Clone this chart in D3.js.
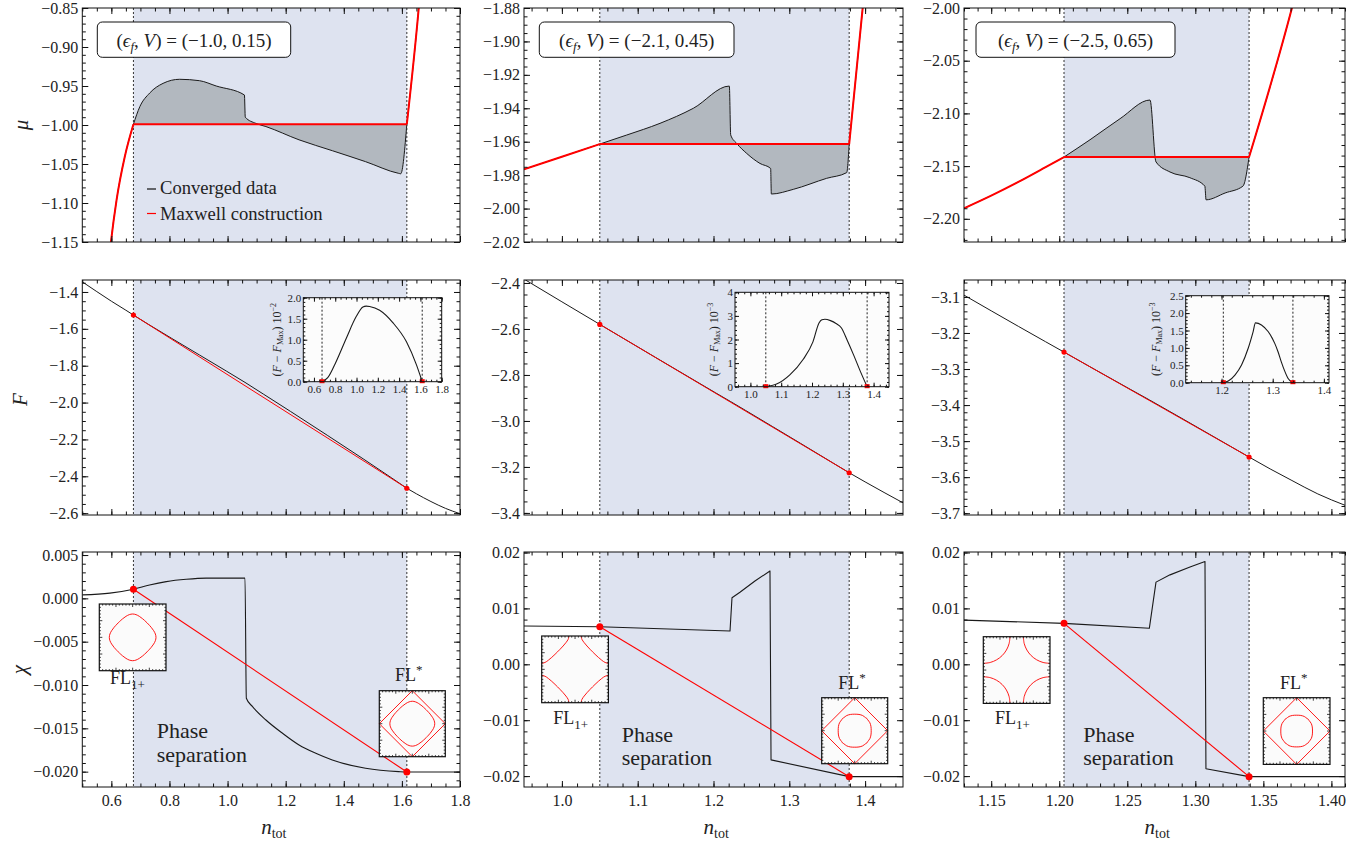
<!DOCTYPE html>
<html>
<head>
<meta charset="utf-8">
<script src="https://cdn.jsdelivr.net/npm/d3@7"></script>
<style>
  body { margin: 0; background: #fff; }
  svg { display: block; font-family: "Liberation Serif", "DejaVu Serif", "Noto Serif", serif; }
  svg text { font-family: "Liberation Serif", "DejaVu Serif", "Noto Serif", serif; fill: #222; }
  .tk text { font-size: 16px; }
  .itk text { font-size: 11px; }
  .tk line, .itk line { stroke: #111; }
</style>
</head>
<body>
<svg id="fig" width="1370" height="846" font-family="Liberation Serif, DejaVu Serif, serif"></svg>
<script>
// ---------------- data ----------------
const paramLabels = ["(−1.0, 0.15)", "(−2.1, 0.45)", "(−2.5, 0.65)"];
const phaseBounds = [[0.676, 1.617], [1.05, 1.379], [1.2035, 1.3395]];
const muMaxwell = [-0.999, -1.9614, -2.1414];

// chemical potential mu(n_tot)
const muLeft1 = [[0.59, -1.18], [0.598, -1.152], [0.618, -1.096], [0.646, -1.041], [0.676, -0.999]];
const muInside1 = [[0.676, -0.999], [0.698, -0.9765], [0.732, -0.959], [0.778, -0.9466], [0.835, -0.9414],
  [0.9035, -0.9432], [0.961, -0.950], [1.058, -0.9615], [1.061, -0.990], [1.098, -0.998], [1.132, -1.002],
  [1.246, -1.019], [1.361, -1.033], [1.475, -1.047], [1.589, -1.062], [1.596, -1.0625], [1.617, -0.999]];
const muRight1 = [[1.617, -0.999], [1.658, -0.85], [1.665, -0.82]];

const muLeft2 = [[0.95, -1.9765], [1.0, -1.969], [1.05, -1.9614]];
const muInside2 = [[1.05, -1.9614], [1.0855, -1.956], [1.1294, -1.949], [1.1734, -1.940], [1.2209, -1.9267],
  [1.2227, -1.956], [1.2306, -1.961], [1.2438, -1.967], [1.2613, -1.973], [1.2754, -1.976], [1.2763, -1.9913],
  [1.3053, -1.9885], [1.3493, -1.9819], [1.3757, -1.9785], [1.379, -1.9614]];
const muRight2 = [[1.379, -1.9614], [1.3968, -1.88], [1.40, -1.865]];

const muLeft3 = [[1.13, -2.190], [1.15, -2.178], [1.17, -2.165], [1.19, -2.151], [1.2035, -2.1414]];
const muInside3 = [[1.2035, -2.1414], [1.2226, -2.125], [1.2447, -2.105], [1.2667, -2.0873], [1.2711, -2.146],
  [1.2814, -2.1556], [1.296, -2.161], [1.307, -2.169], [1.3079, -2.182], [1.3219, -2.1755], [1.335, -2.169],
  [1.3395, -2.1414]];
const muRight3 = [[1.3395, -2.1414], [1.371, -2.0], [1.375, -1.98]];

// free energy F(n_tot)
const fLeft1 = [[0.5, -1.345], [0.55, -1.398], [0.6, -1.450], [0.65, -1.499], [0.676, -1.525]];
const fInside1 = [[0.676, -1.525], [0.7295, -1.5775], [0.808, -1.6521], [0.903, -1.7415], [0.997, -1.8302],
  [1.06, -1.8905], [1.091, -1.9216], [1.123, -1.9537], [1.217, -2.0484], [1.343, -2.1773], [1.469, -2.3077],
  [1.563, -2.4071], [1.617, -2.465]];
const fRight1 = [[1.617, -2.465], [1.65, -2.495], [1.70, -2.537], [1.75, -2.574], [1.80, -2.603]];

const fLeft2 = [[0.95, -2.383], [1.0, -2.4818], [1.05, -2.58]];
const fInside2 = [[1.05, -2.58], [1.128, -2.7325], [1.203, -2.8782], [1.2227, -2.916], [1.242, -2.9537],
  [1.278, -3.0247], [1.315, -3.0979], [1.357, -3.1815], [1.379, -3.2253]];
const fRight2 = [[1.379, -3.2253], [1.40, -3.265], [1.425, -3.311], [1.45, -3.356]];

const fLeft3 = [[1.13, -3.095], [1.15, -3.1385], [1.17, -3.1817], [1.19, -3.2244], [1.2035, -3.253]];
const fInside3 = [[1.2035, -3.253], [1.2262, -3.3014], [1.2521, -3.3561], [1.2663, -3.3858], [1.291, -3.4389],
  [1.3104, -3.481], [1.3395, -3.5442]];
const fRight3 = [[1.3395, -3.5442], [1.355, -3.5772], [1.371, -3.6093], [1.39, -3.6465], [1.41, -3.678]];

// F - F_Max inside the coexistence window (in units of 10^power)
const dF1 = [[0.676, 0], [0.7295, 0.095], [0.808, 0.476], [0.903, 1.03], [0.997, 1.55], [1.06, 1.78],
  [1.091, 1.80], [1.123, 1.79], [1.217, 1.70], [1.343, 1.40], [1.469, 0.95], [1.563, 0.40], [1.617, 0]];
const dF2 = [[1.05, 0], [1.085, 0.11], [1.128, 0.50], [1.171, 1.15], [1.203, 1.90], [1.2227, 2.70], [1.232, 2.84],
  [1.242, 2.86], [1.26, 2.80], [1.278, 2.68], [1.295, 2.50], [1.315, 1.95], [1.335, 1.35], [1.357, 0.65], [1.379, 0]];
const dF3 = [[1.2035, 0], [1.2132, 0.048], [1.2262, 0.22], [1.2391, 0.51], [1.2521, 0.99], [1.2618, 1.47],
  [1.2663, 1.72], [1.278, 1.66], [1.291, 1.47], [1.304, 1.13], [1.3104, 0.89], [1.3168, 0.60], [1.3233, 0.34],
  [1.3298, 0.13], [1.3395, 0]];
const dFPower = [-2, -3, -3];

// chi(n_tot)
const chi1 = [[0.5, 0.0004], [0.595, 0.0006], [0.676, 0.00105], [0.7315, 0.00154], [0.789, 0.00193],
  [0.858, 0.0022], [0.9265, 0.00233], [1.06, 0.00233], [1.0646, -0.01153], [1.086, -0.0125], [1.132, -0.01404],
  [1.189, -0.01557], [1.246, -0.01692], [1.3036, -0.01788], [1.3605, -0.01865], [1.475, -0.01961],
  [1.589, -0.0200], [1.617, -0.02004], [1.8, -0.02004]];
const chi2 = [[0.95, 0.00685], [1.05, 0.00673], [1.2218, 0.00596], [1.2244, 0.0119], [1.2349, 0.0129],
  [1.2547, 0.0149], [1.2745, 0.0167], [1.2759, -0.0171], [1.379, -0.0201], [1.45, -0.0201]];
const chi3 = [[1.13, 0.0079], [1.2035, 0.00733], [1.2662, 0.00644], [1.2711, 0.0147], [1.2814, 0.0160],
  [1.2961, 0.0174], [1.3071, 0.0184], [1.3078, -0.0187], [1.3395, -0.0201], [1.41, -0.0201]];
const chiMaxwell = [[[0.676, 0.00105], [1.617, -0.02004]], [[1.05, 0.00673], [1.379, -0.0201]],
  [[1.2035, 0.00733], [1.3395, -0.0201]]];

// Fermi surfaces in units of the zone half-width
const fsRoundedDiamondQuad = [[1, 0], [0.973, 0.143], [0.9, 0.286], [0.795, 0.429], [0.667, 0.571], [0.62, 0.62],
  [0.571, 0.667], [0.429, 0.795], [0.286, 0.9], [0.143, 0.973], [0, 1]];
const fsRoundQuad = [[1, 0], [0.985, 0.26], [0.92, 0.48], [0.79, 0.66], [0.74, 0.74], [0.66, 0.79], [0.48, 0.92],
  [0.26, 0.985], [0, 1]];
const fsCornerArc2 = [[-0.18, 1], [-0.207, 0.9], [-0.274, 0.8], [-0.358, 0.7], [-0.451, 0.6], [-0.525, 0.525],
  [-0.6, 0.451], [-0.7, 0.358], [-0.8, 0.274], [-0.9, 0.207], [-1, 0.18]];
const fsCornerArc3 = [[-0.2, 1], [-0.227, 0.793], [-0.307, 0.6], [-0.434, 0.434], [-0.6, 0.307], [-0.793, 0.227],
  [-1, 0.2]];
const fl1PocketRadius = [0.70, null, null];
const flStarPocketRadius = [0.68, 0.50, 0.475];

// ticks
const xDomains = [[0.5, 1.8], [0.95, 1.45], [1.13, 1.41]];
const xTicks = [[0.6, 0.8, 1.0, 1.2, 1.4, 1.6, 1.8], [1.0, 1.1, 1.2, 1.3, 1.4], [1.15, 1.20, 1.25, 1.30, 1.35, 1.40]];
const xMinor = [0.05, 0.02, 0.01];
const xFormat = [".1f", ".1f", ".2f"];
const muDomains = [[-1.15, -0.85], [-2.02, -1.88], [-2.222, -2.0]];
const muTicks = [[-1.15, -1.10, -1.05, -1.00, -0.95, -0.90, -0.85],
  [-2.02, -2.00, -1.98, -1.96, -1.94, -1.92, -1.90, -1.88], [-2.20, -2.15, -2.10, -2.05, -2.00]];
const muMinor = [0.01, 0.005, 0.01];
const fDomains = [[-2.61, -1.335], [-3.409, -2.387], [-3.705, -3.053]];
const fTicks = [[-2.6, -2.4, -2.2, -2.0, -1.8, -1.6, -1.4], [-3.4, -3.2, -3.0, -2.8, -2.6, -2.4],
  [-3.7, -3.6, -3.5, -3.4, -3.3, -3.2, -3.1]];
const fMinor = [0.05, 0.05, 0.02];
const chiDomains = [[-0.02177, 0.00535], [-0.02195, 0.02009], [-0.02195, 0.02009]];
const chiTicks = [[-0.020, -0.015, -0.010, -0.005, 0, 0.005], [-0.02, -0.01, 0, 0.01, 0.02], [-0.02, -0.01, 0, 0.01, 0.02]];
const chiMinor = [0.001, 0.002, 0.002];
const chiFormat = [".3f", ".2f", ".2f"];
const insetXTicks = [[0.6, 0.8, 1.0, 1.2, 1.4, 1.6, 1.8], [1.0, 1.1, 1.2, 1.3, 1.4], [1.2, 1.3, 1.4]];
const insetXMinor = [0.05, 0.02, 0.02];
const insetYDomains = [[0, 2.0], [0, 4], [0, 2.5]];
const insetYTicks = [[0, 0.5, 1.0, 1.5, 2.0], [0, 1, 2, 3, 4], [0, 0.5, 1.0, 1.5, 2.0, 2.5]];
const insetYMinor = [0.1, 0.2, 0.1];
const insetYFormat = [".1f", "d", ".1f"];

// ---------------- layout ----------------
const colLeft = [82.3, 524, 964], colRight = [460, 903, 1345];
const rowTop = [8, 280, 552], rowBottom = [242, 515, 787];
const labelBoxes = [[97.3, 22, 193.4, 35.3], [539.3, 22, 194.7, 35.3], [976, 22, 199, 35.3]];
const insetBoxes = [[303.3, 297.7, 441.7, 381.7], [735, 292.3, 889, 386.7], [1185.7, 295.7, 1329, 382.7]];
const insetTitleX = [281, 718, 1160];
const fl1Boxes = [[99.3, 604, 66.7], [541.7, 636, 66.7], [983.3, 636.7, 66.7]];
const fl1Text = [[110, 683.5], [553.3, 724], [995, 724]];
const flStarBoxes = [[379.3, 690.7, 66], [821.7, 697.7, 66], [1263.3, 697.7, 66.7]];
const flStarText = [[395, 681], [838.3, 689.3], [1280, 689.3]];
const phaseText = [[156.7, 738.3], [621.7, 741.7], [1083.3, 741.7]];
const chiCurves = [d3.curveMonotoneX, d3.curveLinear, d3.curveLinear];

const RED = "#ff0000", SHADE = "#dee3f0", GREYFILL = "#b2b8bf";

const muSets = [[muLeft1, muInside1, muRight1], [muLeft2, muInside2, muRight2], [muLeft3, muInside3, muRight3]];
const fSets = [[fLeft1, fInside1, fRight1], [fLeft2, fInside2, fRight2], [fLeft3, fInside3, fRight3]];
const dFSets = [dF1, dF2, dF3];
const chiSets = [chi1, chi2, chi3];

const svg = d3.select("#fig");
const defs = svg.append("defs");
let clipId = 0;

function minorValues(dom, step) {
  const lo = Math.min(...dom), hi = Math.max(...dom), out = [];
  for (let k = Math.ceil(lo / step - 1e-6); k * step <= hi + 1e-9; k++) out.push(+(k * step).toFixed(6));
  return out;
}

function frameAxes(g, x, y, o) {
  const [l, r] = x.range(), [b, t] = y.range();
  const none = () => "";
  const inDom = (vals, s) => vals.filter(v => v >= Math.min(...s.domain()) - 1e-9 && v <= Math.max(...s.domain()) + 1e-9);
  const add = (axis, tr, vals, size, fmt, pad) => {
    const a = g.append("g").attr("class", o.cls).attr("transform", tr)
      .call(axis.tickValues(vals).tickSize(size).tickPadding(pad).tickFormat(fmt));
    a.select(".domain").remove();
    a.attr("font-size", null).attr("font-family", null);
    return a;
  };
  const xm = minorValues(x.domain(), o.xStep), ym = minorValues(y.domain(), o.yStep);
  const xt = inDom(o.xTicks, x), yt = inDom(o.yTicks, y);
  add(d3.axisBottom(x), `translate(0,${b})`, xm, -o.minor, none, 0);
  add(d3.axisBottom(x), `translate(0,${b})`, xt, -o.major, o.xFmt ? d3.format(o.xFmt) : none, o.xPad);
  add(d3.axisTop(x), `translate(0,${t})`, xm, -o.minor, none, 0);
  add(d3.axisTop(x), `translate(0,${t})`, xt, -o.major, none, 0);
  add(d3.axisLeft(y), `translate(${l},0)`, ym, -o.minor, none, 0);
  add(d3.axisLeft(y), `translate(${l},0)`, yt, -o.major, o.yFmt ? d3.format(o.yFmt) : none, o.yPad);
  add(d3.axisRight(y), `translate(${r},0)`, ym, -o.minor, none, 0);
  add(d3.axisRight(y), `translate(${r},0)`, yt, -o.major, none, 0);
  g.append("rect").attr("x", l).attr("y", t).attr("width", r - l).attr("height", b - t)
    .attr("fill", "none").attr("stroke", "#111").attr("stroke-width", 1);
}

function makeClip(x, y) {
  const id = "clip" + (clipId++);
  const [l, r] = x.range(), [b, t] = y.range();
  defs.append("clipPath").attr("id", id).append("rect")
    .attr("x", l).attr("y", t).attr("width", r - l).attr("height", b - t);
  return `url(#${id})`;
}

function shadeWindow(g, x, y, c) {
  const [b0, b1] = phaseBounds[c], [b, t] = y.range();
  g.append("rect").attr("x", x(b0)).attr("y", t).attr("width", x(b1) - x(b0)).attr("height", b - t).attr("fill", SHADE);
  phaseBounds[c].forEach(v => g.append("line").attr("x1", x(v)).attr("x2", x(v)).attr("y1", t).attr("y2", b)
    .attr("stroke", "#333").attr("stroke-width", 1).attr("stroke-dasharray", "2,2"));
}

function smoothLine(x, y, curve = d3.curveMonotoneX) { return d3.line().x(d => x(d[0])).y(d => y(d[1])).curve(curve); }

function strokePieces(g, pieces, x, y, color, width, curve) {
  pieces.forEach(p => g.append("path").datum(p).attr("fill", "none").attr("stroke", color)
    .attr("stroke-width", width).attr("stroke-linejoin", "round").attr("d", smoothLine(x, y, curve)));
}

function mathLabel(g, parts, attrs) {
  const t = g.append("text");
  Object.entries(attrs).forEach(([k, v]) => t.attr(k, v));
  parts.forEach(p => {
    const s = t.append("tspan").text(p.t);
    if (p.i) s.attr("font-style", "italic");
    if (p.size) s.attr("font-size", p.size);
    if (p.dy) s.attr("dy", p.dy);
  });
  return t;
}

// ---------------- row 1: mu ----------------
for (let c = 0; c < 3; c++) {
  const x = d3.scaleLinear().domain(xDomains[c]).range([colLeft[c], colRight[c]]);
  const y = d3.scaleLinear().domain(muDomains[c]).range([rowBottom[0], rowTop[0]]);
  const g = svg.append("g");
  shadeWindow(g, x, y, c);
  const [left, inside, right] = muSets[c];
  const body = g.append("g").attr("clip-path", makeClip(x, y));
  body.append("path").datum(inside).attr("fill", GREYFILL)
    .attr("d", d3.area().x(d => x(d[0])).y0(y(muMaxwell[c])).y1(d => y(d[1])).curve(d3.curveMonotoneX));
  strokePieces(body, [left, inside, right], x, y, "#1a1a1a", 1);
  const flat = [[phaseBounds[c][0], muMaxwell[c]], [phaseBounds[c][1], muMaxwell[c]]];
  strokePieces(body, [left, flat, right], x, y, RED, 2);
  frameAxes(g, x, y, { cls: "tk", xTicks: xTicks[c], yTicks: muTicks[c], xStep: xMinor[c], yStep: muMinor[c],
    yFmt: ".2f", major: 6, minor: 3.5, yPad: 4, xPad: 4 });

  const [bx, by, bw, bh] = labelBoxes[c];
  g.append("rect").attr("x", bx).attr("y", by).attr("width", bw).attr("height", bh).attr("rx", 5)
    .attr("fill", "#fff").attr("stroke", "#111").attr("stroke-width", 1);
  mathLabel(g, [{ t: "(" }, { t: "ϵ", i: 1 }, { t: "f", i: 1, size: "13px", dy: 4 }, { t: ", ", dy: -4 },
    { t: "V", i: 1 }, { t: ") = " + paramLabels[c] }],
    { x: bx + bw / 2, y: by + 24.5, "text-anchor": "middle", "font-size": "19px" });

  if (c === 0) {
    g.append("text").attr("transform", `translate(28,${(rowTop[0] + rowBottom[0]) / 2}) rotate(-90)`)
      .attr("text-anchor", "middle").attr("font-size", "21px").attr("font-style", "italic").text("μ");
    const lg = g.append("g");
    [["Converged data", "#111", 189, 193.5], ["Maxwell construction", RED, 213.5, 220]].forEach(([txt, col, ly, ty]) => {
      lg.append("line").attr("x1", 147).attr("x2", 156).attr("y1", ly).attr("y2", ly).attr("stroke", col).attr("stroke-width", 1.2);
      lg.append("text").attr("x", 160).attr("y", ty).attr("font-size", "18.6px").text(txt);
    });
  }
}

// ---------------- row 2: F ----------------
for (let c = 0; c < 3; c++) {
  const x = d3.scaleLinear().domain(xDomains[c]).range([colLeft[c], colRight[c]]);
  const y = d3.scaleLinear().domain(fDomains[c]).range([rowBottom[1], rowTop[1]]);
  const g = svg.append("g");
  shadeWindow(g, x, y, c);
  const [left, inside, right] = fSets[c];
  const body = g.append("g").attr("clip-path", makeClip(x, y));
  strokePieces(body, [left, inside, right], x, y, "#1a1a1a", 1);
  const ends = [inside[0], inside[inside.length - 1]];
  strokePieces(body, [ends], x, y, RED, 1);
  body.selectAll("circle").data(ends).join("circle").attr("cx", d => x(d[0])).attr("cy", d => y(d[1]))
    .attr("r", 2.6).attr("fill", RED);
  frameAxes(g, x, y, { cls: "tk", xTicks: xTicks[c], yTicks: fTicks[c], xStep: xMinor[c], yStep: fMinor[c],
    yFmt: ".1f", major: 6, minor: 3.5, yPad: 4, xPad: 4 });
  if (c === 0) g.append("text").attr("transform", `translate(27,${(rowTop[1] + rowBottom[1]) / 2 + 2}) rotate(-90)`)
    .attr("text-anchor", "middle").attr("font-size", "21px").attr("font-style", "italic").text("F");

  // inset: F - F_Max
  const [il, it, ir, ib] = insetBoxes[c];
  const ix = d3.scaleLinear().domain(xDomains[c]).range([il, ir]);
  const iy = d3.scaleLinear().domain(insetYDomains[c]).range([ib, it]);
  const ig = g.append("g");
  ig.append("rect").attr("x", il).attr("y", it).attr("width", ir - il).attr("height", ib - it).attr("fill", "#fcfcfc");
  phaseBounds[c].forEach(v => ig.append("line").attr("x1", ix(v)).attr("x2", ix(v)).attr("y1", it).attr("y2", ib)
    .attr("stroke", "#222").attr("stroke-width", 1).attr("stroke-dasharray", "2,2"));
  ig.append("path").datum(dFSets[c]).attr("clip-path", makeClip(ix, iy)).attr("fill", "none").attr("stroke", "#1a1a1a")
    .attr("stroke-width", 1.1).attr("d", smoothLine(ix, iy));
  ig.selectAll("rect.mk").data(phaseBounds[c]).join("rect").attr("class", "mk")
    .attr("x", d => ix(d) - 2.5).attr("y", ib - 2.5).attr("width", 5).attr("height", 4).attr("fill", RED);
  frameAxes(ig, ix, iy, { cls: "itk", xTicks: insetXTicks[c], yTicks: insetYTicks[c], xStep: insetXMinor[c],
    yStep: insetYMinor[c], xFmt: ".1f", yFmt: insetYFormat[c], major: 4, minor: 2, yPad: 2, xPad: 4 });
  mathLabel(ig, [{ t: "(" }, { t: "F", i: 1 }, { t: " − " }, { t: "F", i: 1 }, { t: "Max", size: "8px", dy: 2 },
    { t: ")", dy: -2 }, { t: " 10" }, { t: "−" + (-dFPower[c]), size: "8px", dy: -5 }],
    { transform: `translate(${insetTitleX[c]},${(it + ib) / 2}) rotate(-90)`, "text-anchor": "middle", "font-size": "12px" });
}

// ---------------- row 3: chi ----------------
function fsBox(g, bx, by, size, draw) {
  const h = size / 2, cx = bx + h, cy = by + h;
  const fg = g.append("g");
  fg.append("rect").attr("x", bx).attr("y", by).attr("width", size).attr("height", size).attr("fill", "#fbfbfb");
  const toPx = p => [cx + p[0] * h, cy - p[1] * h];
  draw(fg, toPx);
  const ticks = [];
  for (let k = 1; k < 20; k++) {
    const f = k / 20, len = k % 5 === 0 ? 3 : 1.6;
    ticks.push([bx + f * size, by, bx + f * size, by + len], [bx + f * size, by + size, bx + f * size, by + size - len],
      [bx, by + f * size, bx + len, by + f * size], [bx + size, by + f * size, bx + size - len, by + f * size]);
  }
  fg.selectAll("line").data(ticks).join("line").attr("x1", d => d[0]).attr("y1", d => d[1]).attr("x2", d => d[2])
    .attr("y2", d => d[3]).attr("stroke", "#111").attr("stroke-width", 0.8);
  fg.append("rect").attr("x", bx).attr("y", by).attr("width", size).attr("height", size)
    .attr("fill", "none").attr("stroke", "#111").attr("stroke-width", 1.2);
}

function closedPocket(quad, r) {
  const q = quad.map(p => [p[0] * r, p[1] * r]);
  const out = [];
  [[1, 1], [-1, 1], [-1, -1], [1, -1]].forEach(([sx, sy], qi) => {
    const seq = qi % 2 === 0 ? q : q.slice().reverse();
    seq.forEach((p, i) => { if (i < seq.length - 1) out.push([p[0] * sx, p[1] * sy]); });
  });
  return out;
}

function drawPath(fg, toPx, pts, closed, curve) {
  const line = d3.line().x(p => toPx(p)[0]).y(p => toPx(p)[1]).curve(curve);
  fg.append("path").attr("d", line(pts) + (closed && curve === d3.curveLinear ? "Z" : "")).attr("fill", "none")
    .attr("stroke", RED).attr("stroke-width", 0.9);
}

for (let c = 0; c < 3; c++) {
  const x = d3.scaleLinear().domain(xDomains[c]).range([colLeft[c], colRight[c]]);
  const y = d3.scaleLinear().domain(chiDomains[c]).range([rowBottom[2], rowTop[2]]);
  const g = svg.append("g");
  shadeWindow(g, x, y, c);
  const body = g.append("g").attr("clip-path", makeClip(x, y));
  strokePieces(body, [chiSets[c]], x, y, "#1a1a1a", 1.1, chiCurves[c]);
  body.append("path").datum(chiMaxwell[c]).attr("fill", "none").attr("stroke", RED).attr("stroke-width", 1.1)
    .attr("d", d3.line().x(d => x(d[0])).y(d => y(d[1])));
  body.selectAll("circle").data(chiMaxwell[c]).join("circle").attr("cx", d => x(d[0])).attr("cy", d => y(d[1]))
    .attr("r", 3.5).attr("fill", RED);
  frameAxes(g, x, y, { cls: "tk", xTicks: xTicks[c], yTicks: chiTicks[c], xStep: xMinor[c], yStep: chiMinor[c],
    xFmt: xFormat[c], yFmt: chiFormat[c], major: 6, minor: 3.5, yPad: 4, xPad: 8 });
  if (c === 0) g.append("text").attr("transform", `translate(26,${(rowTop[2] + rowBottom[2]) / 2}) rotate(-90)`)
    .attr("text-anchor", "middle").attr("font-size", "21px").attr("font-style", "italic").text("χ");
  mathLabel(g, [{ t: "n", i: 1 }, { t: "tot", size: "14px", dy: 4 }],
    { x: (colLeft[c] + colRight[c]) / 2 - 10, y: 834, "font-size": "21px" });

  // Fermi-surface snapshots on either side of the window
  const [ax, ay, as] = fl1Boxes[c];
  fsBox(g, ax, ay, as, (fg, toPx) => {
    if (fl1PocketRadius[c]) drawPath(fg, toPx, closedPocket(fsRoundedDiamondQuad, fl1PocketRadius[c]), true, d3.curveCatmullRomClosed);
    else {
      const arc = c === 1 ? fsCornerArc2 : fsCornerArc3;
      [[1, 1], [-1, 1], [1, -1], [-1, -1]].forEach(([sx, sy]) =>
        drawPath(fg, toPx, arc.map(p => [p[0] * sx, p[1] * sy]), false, d3.curveCatmullRom));
    }
  });
  const [sxp, syp, ss] = flStarBoxes[c];
  fsBox(g, sxp, syp, ss, (fg, toPx) => {
    drawPath(fg, toPx, [[1, 0], [0, 1], [-1, 0], [0, -1]], true, d3.curveLinear);
    const quad = c === 0 ? fsRoundedDiamondQuad : fsRoundQuad;
    drawPath(fg, toPx, closedPocket(quad, flStarPocketRadius[c]), true, d3.curveCatmullRomClosed);
  });
  mathLabel(g, [{ t: "FL" }, { t: "1+", size: "13px", dy: 5 }], { x: fl1Text[c][0], y: fl1Text[c][1], "font-size": "18px" });
  mathLabel(g, [{ t: "FL" }, { t: "*", size: "13px", dy: -7 }], { x: flStarText[c][0], y: flStarText[c][1], "font-size": "18px" });
  const pt = g.append("text").attr("x", phaseText[c][0]).attr("y", phaseText[c][1]).attr("font-size", "22px");
  pt.append("tspan").text("Phase");
  pt.append("tspan").attr("x", phaseText[c][0]).attr("dy", 23.5).text("separation");
}
</script>
</body>
</html>
